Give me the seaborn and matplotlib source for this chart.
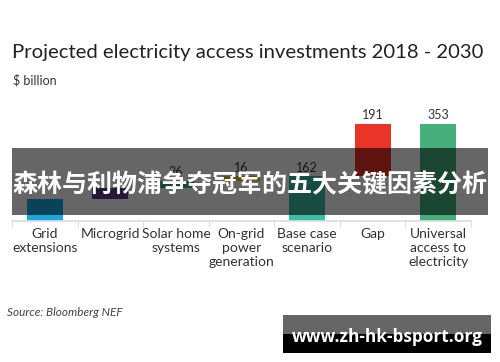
import matplotlib
matplotlib.use("Agg")
import matplotlib.pyplot as plt
import matplotlib.patches as mpatches
import seaborn as sns
import pandas as pd

# --- datos ---
categories = ["Grid extensions", "Microgrid", "Solar home systems", "On-grid power generation",
              "Base case scenario", "Gap", "Universal access to electricity"]
tick_labels = ["Grid\nextensions", "Microgrid", "Solar home\nsystems", "On-grid\npower\ngeneration",
               "Base case\nscenario", "Gap", "Universal\naccess to\nelectricity"]
values = [80, 40, 26, 16, 162, 191, 353]
bottoms = [0, 80, 120, 146, 0, 162, 0]
value_labels = ["", "", "26", "16", "162", "191", "353"]
bar_colors = ["#1ba6e0", "#5e3d8f", "#3fae8e", "#e9c21c", "#3dbfa6", "#ea3428", "#45b07c"]

df = pd.DataFrame({"category": categories, "value": values})

sns.set_theme(style="white")
plt.rcParams["font.family"] = ["Lato", "DejaVu Sans"]

fig = plt.figure(figsize=(5, 3.62), dpi=100)
ax = fig.add_axes([0.024, 0.3895, 0.918, 0.3039])

# cascada: barras flotantes con bottom
sns.barplot(data=df, x="category", y="value", order=categories, width=0.55,
            bottom=bottoms, color=bar_colors[0], saturation=1, errorbar=None, ax=ax)
for patch, c in zip(ax.patches, bar_colors):
    patch.set_facecolor(c)
    patch.set_edgecolor("none")

ax.bar_label(ax.containers[0], labels=value_labels, padding=2, fontsize=9, color="#333333")

ax.set_xlim(-0.5, 6.5)
ax.set_ylim(0, 400)
ax.set_xlabel("")
ax.set_ylabel("")
ax.set_yticks([])
ax.set_xticks(range(len(categories)))
ax.set_xticklabels(tick_labels, fontsize=10, color="#333333", linespacing=1.22)
ax.set_xticks([i + 0.5 for i in range(-1, 7)], minor=True)
ax.tick_params(axis="x", which="major", length=0, pad=5)
ax.tick_params(axis="x", which="minor", length=4, color="#dddddd", width=0.8, bottom=True)
for s in ["top", "right", "left"]:
    ax.spines[s].set_visible(False)
ax.spines["bottom"].set_color("#dddddd")

fig.text(0.024, 0.856, "Projected electricity access investments 2018 - 2030",
         fontsize=14.6, color="#222222", va="center")
fig.text(0.026, 0.779, "$ billion", fontsize=9, color="#333333", va="center")
fig.text(0.014, 0.138, "Source: Bloomberg NEF", fontsize=8.5, style="italic",
         color="#444444", va="center")

# franja superpuesta
fig.patches.append(mpatches.Rectangle((0.024, (362 - 215) / 362), 0.952, 67 / 362,
                                      transform=fig.transFigure, facecolor="black",
                                      alpha=0.6, edgecolor="none", zorder=5))
fig.text(0.5, (362 - 185) / 362, "森林与利物浦争夺冠军的五大关键因素分析", fontsize=18,
         fontweight="bold", color="white", ha="center", va="center",
         family=["Noto Sans CJK SC", "DejaVu Sans"], zorder=6)

# marca de agua
fig.patches.append(mpatches.Rectangle((283 / 500, (362 - 353) / 362), 208 / 500, 19 / 362,
                                      transform=fig.transFigure, facecolor="#000000",
                                      edgecolor="none", zorder=5))
fig.patches.append(mpatches.Rectangle((283 / 500, (362 - 334) / 362), 208 / 500, 19 / 362,
                                      transform=fig.transFigure, facecolor="#666666",
                                      edgecolor="none", zorder=5))
fig.text(387 / 500, (362 - 337) / 362, "www.zh-hk-bsport.org", fontsize=12.4,
         fontweight="bold", color="white", ha="center", va="center",
         family=["Open Sans", "DejaVu Sans"], zorder=6)

fig.savefig("out.png", dpi=100)
